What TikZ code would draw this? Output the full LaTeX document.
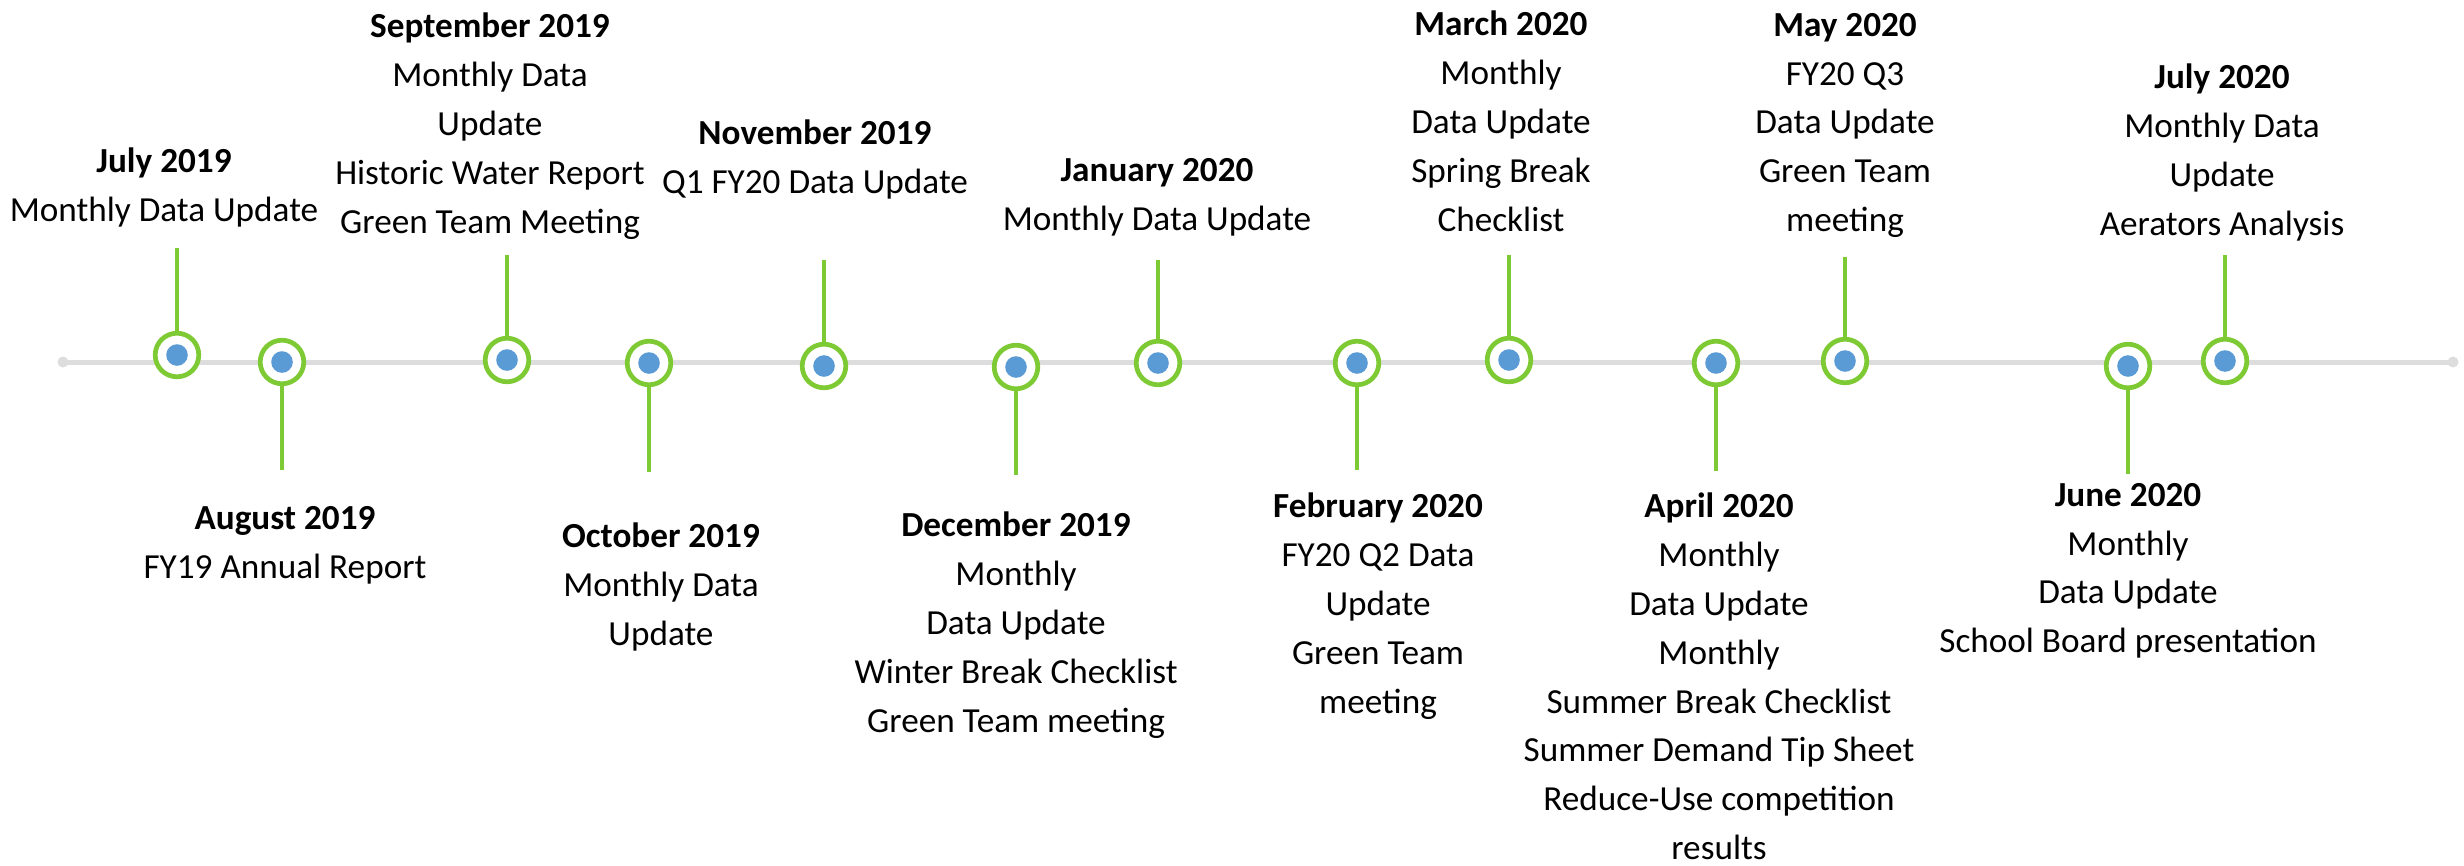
\documentclass[tikz,border=0pt]{standalone}
\usepackage{fontspec}
\setmainfont{Carlito}
\definecolor{tlgreen}{RGB}{125,202,52}
\definecolor{tlblue}{RGB}{91,155,213}
\definecolor{tlgray}{RGB}{221,221,221}
\tikzset{
  tlring/.style={circle, draw=tlgreen, line width=4.7pt, fill=white, minimum size=43.6pt, inner sep=0pt},
  tldot/.style={circle, fill=tlblue, minimum size=21.6pt, inner sep=0pt},
  tlstem/.style={draw=tlgreen, line width=3.5pt},
  tlaxis/.style={draw=tlgray, line width=5pt},
  evtext/.style={anchor=north, align=center, inner sep=0pt, text=black, font=\fontsize{35.2}{48.8}\selectfont},
}
\begin{document}
\begin{tikzpicture}[x=1pt,y=-1pt]
\useasboundingbox (0,0) rectangle (2464,865);
% axis
\coordinate (axL) at (63,362);
\coordinate (axR) at (2453,362);
\draw[tlaxis] (axL) -- (axR);
\fill[tlgray] (axL) circle (5.5);
\fill[tlgray] (axR) circle (5.5);

% events: ring, dot, stem
% July 2019 (up)
\node[tlring] (c1) at (177,355) {};
\node[tldot] (d1) at (c1) {};
\coordinate (s1) at (177,248);
\draw[tlstem] (s1) -- (c1.north);
% August 2019 (down)
\node[tlring] (c2) at (282,362) {};
\node[tldot] (d2) at (c2) {};
\coordinate (s2) at (282,470);
\draw[tlstem] (c2.south) -- (s2);
% September 2019 (up)
\node[tlring] (c3) at (507,360) {};
\node[tldot] (d3) at (c3) {};
\coordinate (s3) at (507,255);
\draw[tlstem] (s3) -- (c3.north);
% October 2019 (down)
\node[tlring] (c4) at (649,363) {};
\node[tldot] (d4) at (c4) {};
\coordinate (s4) at (649,472);
\draw[tlstem] (c4.south) -- (s4);
% November 2019 (up)
\node[tlring] (c5) at (824,366) {};
\node[tldot] (d5) at (c5) {};
\coordinate (s5) at (824,260);
\draw[tlstem] (s5) -- (c5.north);
% December 2019 (down)
\node[tlring] (c6) at (1016,367) {};
\node[tldot] (d6) at (c6) {};
\coordinate (s6) at (1016,475);
\draw[tlstem] (c6.south) -- (s6);
% January 2020 (up)
\node[tlring] (c7) at (1158,363) {};
\node[tldot] (d7) at (c7) {};
\coordinate (s7) at (1158,260);
\draw[tlstem] (s7) -- (c7.north);
% February 2020 (down)
\node[tlring] (c8) at (1357,363) {};
\node[tldot] (d8) at (c8) {};
\coordinate (s8) at (1357,470);
\draw[tlstem] (c8.south) -- (s8);
% March 2020 (up)
\node[tlring] (c9) at (1509,360) {};
\node[tldot] (d9) at (c9) {};
\coordinate (s9) at (1509,255);
\draw[tlstem] (s9) -- (c9.north);
% April 2020 (down)
\node[tlring] (c10) at (1716,363) {};
\node[tldot] (d10) at (c10) {};
\coordinate (s10) at (1716,471);
\draw[tlstem] (c10.south) -- (s10);
% May 2020 (up)
\node[tlring] (c11) at (1845,361) {};
\node[tldot] (d11) at (c11) {};
\coordinate (s11) at (1845,257);
\draw[tlstem] (s11) -- (c11.north);
% June 2020 (down)
\node[tlring] (c12) at (2128,366) {};
\node[tldot] (d12) at (c12) {};
\coordinate (s12) at (2128,474);
\draw[tlstem] (c12.south) -- (s12);
% July 2020 (up)
\node[tlring] (c13) at (2225,361) {};
\node[tldot] (d13) at (c13) {};
\coordinate (s13) at (2225,255);
\draw[tlstem] (s13) -- (c13.north);

% texts
\node[evtext] (t1) at (164,148) {\textbf{July 2019}\\Monthly Data Update};
\node[evtext] (t2) at (285,506) {\textbf{August 2019}\\FY19 Annual Report};
\node[evtext] (t3) at (490,13) {\textbf{September 2019}\\Monthly Data\\Update\\Historic Water Report\\Green Team Meeting};
\node[evtext] (t4) at (661,523) {\textbf{October 2019}\\Monthly Data\\Update};
\node[evtext] (t5) at (815,120) {\textbf{November 2019}\\Q1 FY20 Data Update};
\node[evtext] (t6) at (1016,512) {\textbf{December 2019}\\Monthly\\Data Update\\Winter Break Checklist\\Green Team meeting};
\node[evtext] (t7) at (1157,158) {\textbf{January 2020}\\Monthly Data Update};
\node[evtext] (t8) at (1378,493) {\textbf{February 2020}\\FY20 Q2 Data\\Update\\Green Team\\meeting};
\node[evtext] (t9) at (1501,11) {\textbf{March 2020}\\Monthly\\Data Update\\Spring Break\\Checklist};
\node[evtext] (t10) at (1719,493) {\textbf{April 2020}\\Monthly\\Data Update\\Monthly\\Summer Break Checklist\\Summer Demand Tip Sheet\\Reduce-Use competition\\results};
\node[evtext] (t11) at (1845,13) {\textbf{May 2020}\\FY20 Q3\\Data Update\\Green Team\\meeting};
\node[evtext] (t12) at (2128,483) {\textbf{June 2020}\\Monthly\\Data Update\\School Board presentation};
\node[evtext] (t13) at (2222,64) {\textbf{July 2020}\\Monthly Data\\Update\\Aerators Analysis};
\end{tikzpicture}
\end{document}
